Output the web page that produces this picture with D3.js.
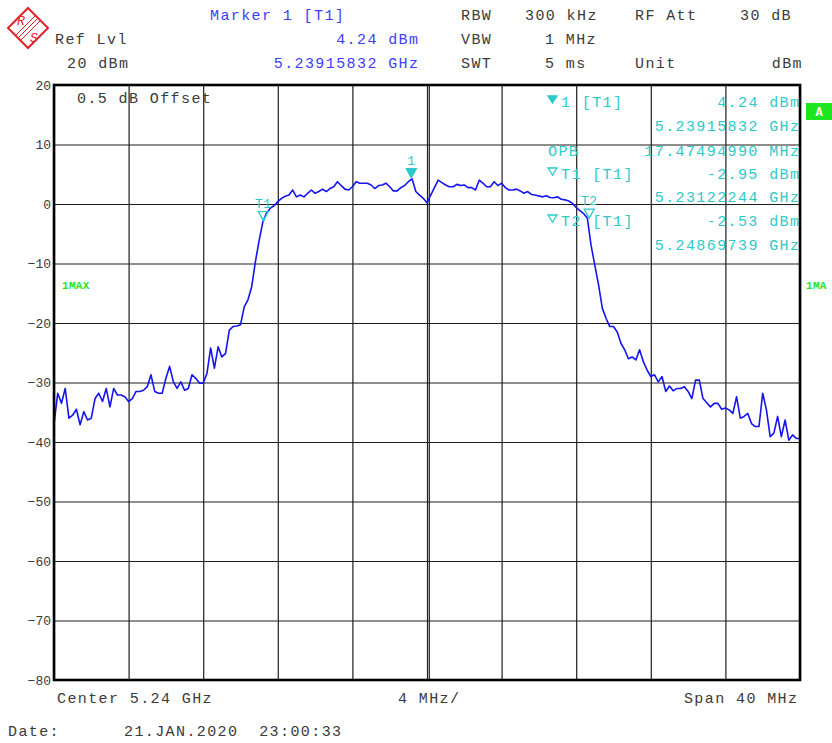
<!DOCTYPE html>
<html>
<head>
<meta charset="utf-8">
<script src="https://cdn.jsdelivr.net/npm/d3@7"></script>
<style>
  body { margin: 0; background: #fff; }
  svg { display: block; }
  text { font-family: "Liberation Mono", "DejaVu Sans Mono", monospace; white-space: pre; }
</style>
</head>
<body>
<div id="chart"></div>
<script>
// sweep settings
const START_GHZ = 5.22;
const STOP_GHZ = 5.26;
const SWEEP_STEP_GHZ = 0.0002;
const FREQ_GRID_GHZ = [5.220, 5.224, 5.228, 5.232, 5.236, 5.240, 5.244, 5.248, 5.252, 5.256, 5.260];
const LEVEL_TICKS = [20, 10, 0, -10, -20, -30, -40, -50, -60, -70, -80];

// trace 1 (max hold), dBm per sweep point
const TRACE_DBM = [
  -37.0, -31.8, -33.5, -31.0, -36.0, -35.5, -34.5, -37.1, -34.9, -36.3,
  -36.0, -32.7, -31.8, -33.2, -31.0, -34.1, -31.0, -32.1, -32.1, -32.4,
  -33.2, -32.7, -31.5, -31.5, -31.3, -30.7, -28.7, -31.5, -31.8, -31.8,
  -29.3, -27.3, -29.9, -31.0, -29.9, -31.3, -31.0, -28.7, -29.3, -30.1,
  -30.1, -28.5, -24.2, -27.6, -24.0, -25.7, -25.1, -21.2, -20.6, -20.5,
  -20.3, -17.3, -16.1, -13.9, -9.7, -6.1, -3.0, -1.5, -0.7, -0.3,
  0.4, 0.95, 1.3, 1.5, 2.35, 1.2, 1.5, 1.2, 1.8, 2.35,
  1.8, 2.1, 2.5, 2.1, 2.6, 2.9, 3.75, 3.1, 2.5, 2.35,
  2.9, 3.75, 3.5, 3.5, 3.5, 3.2, 2.6, 3.1, 3.2, 3.5,
  2.9, 2.2, 2.2, 2.75, 3.1, 3.75, 4.24, 2.1, 1.5, 0.95,
  0.2, 1.5, 2.75, 4.0, 3.6, 3.2, 2.9, 2.9, 3.3, 3.1,
  3.2, 2.75, 2.75, 2.35, 4.0, 3.5, 2.9, 2.9, 3.75, 3.1,
  3.5, 2.75, 2.35, 2.35, 2.5, 2.2, 1.8, 2.1, 1.6, 1.5,
  1.35, 1.2, 1.4, 1.1, 1.05, 1.2, 0.8, 0.7, 0.5, 0.1,
  -0.6, -1.1, -1.6, -2.4, -7.0, -10.3, -13.6, -17.5, -19.2, -20.6,
  -20.6, -21.5, -23.4, -24.5, -26.0, -25.7, -26.2, -24.5, -26.5, -27.9,
  -29.0, -28.7, -29.9, -29.0, -31.5, -30.6, -31.4, -31.0, -31.0, -30.7,
  -31.5, -32.7, -29.6, -29.6, -32.7, -33.4, -34.1, -33.5, -33.5, -34.5,
  -34.3, -34.6, -35.2, -32.4, -36.0, -35.7, -35.2, -36.9, -37.4, -37.4,
  -31.8, -34.6, -39.1, -38.5, -35.7, -39.1, -36.3, -39.7, -38.8, -39.4,
  -39.4
];

const MARKER_NAMES = ["1", "T1", "T2"];
const MARKER_FREQ_GHZ = [5.23915832, 5.23122244, 5.24869739];
const MARKER_DBM = [4.24, -2.95, -2.53];
const MARKER_FILLED = [true, false, false];

const HEADER_LEFT = ["Ref Lvl", "20 dBm"];
const HEADER_MARKER = ["Marker 1 [T1]", "4.24 dBm", "5.23915832 GHz"];
const HEADER_SETTINGS = ["RBW", "300 kHz", "RF Att", "30 dB", "VBW", "1 MHz", "SWT", "5 ms", "Unit", "dBm"];
const PANEL_LEFT = ["1 [T1]", "", "OPB", "T1 [T1]", "", "T2 [T1]", ""];
const PANEL_RIGHT = ["4.24 dBm", "5.23915832 GHz", "17.47494990 MHz", "-2.95 dBm", "5.23122244 GHz", "-2.53 dBm", "5.24869739 GHz"];
const PANEL_ICON = ["filled", null, null, "open", null, "open", null];
const FOOTER = ["Center 5.24 GHz", "4 MHz/", "Span 40 MHz"];
const DATE_TEXT = ["Date:", "21.JAN.2020  23:00:33"];

const WIDTH = 832;
const HEIGHT = 743;
const LEFT = 54, RIGHT = 800, TOP = 85, BOTTOM = 680;
const GRAY = "#3a3a3a";
const BLUE = "#3c3cff";
const CYAN = "#2ccaca";
const GREEN = "#1ee61e";
const TRACE_COLOR = "#1414f0";
const LS = "1.4px";

var svg = d3.select("#chart").append("svg")
  .attr("width", WIDTH)
  .attr("height", HEIGHT);

svg.append("rect").attr("width", WIDTH).attr("height", HEIGHT).attr("fill", "#fff");

var xScale = d3.scaleLinear().domain([START_GHZ, STOP_GHZ]).range([LEFT, RIGHT]);
var yScale = d3.scaleLinear().domain([-80, 20]).range([BOTTOM, TOP]);

function label(x, y, txt, opts) {
  opts = opts || {};
  return svg.append("text")
    .attr("x", x)
    .attr("y", y)
    .attr("fill", opts.color || GRAY)
    .attr("font-size", opts.size || 15)
    .attr("letter-spacing", opts.ls === undefined ? LS : opts.ls)
    .attr("text-anchor", opts.anchor || "start")
    .attr("font-weight", opts.weight || "normal")
    .text(txt);
}

// logo
var logo = svg.append("g").attr("transform", "translate(28,28)");
logo.append("path")
  .attr("d", "M0,-20 L20,0 L0,20 L-20,0 Z")
  .attr("fill", "#fff").attr("stroke", "#e5202a").attr("stroke-width", 2);
[-2.5, 0, 2.5].forEach(o => {
  logo.append("line")
    .attr("x1", -10 + o).attr("y1", 10 + o).attr("x2", 10 + o).attr("y2", -10 + o)
    .attr("stroke", "#e5202a").attr("stroke-width", 1);
});
logo.append("text").attr("x", -7).attr("y", -3).attr("fill", "#e5202a")
  .attr("font-size", 13).attr("font-style", "italic").attr("text-anchor", "middle")
  .attr("font-family", "Liberation Sans, sans-serif").text("R");
logo.append("text").attr("x", 6).attr("y", 14).attr("fill", "#e5202a")
  .attr("font-size", 13).attr("font-style", "italic").attr("text-anchor", "middle")
  .attr("font-family", "Liberation Sans, sans-serif").text("S");

// header
label(210, 20, HEADER_MARKER[0], { color: BLUE });
label(419.4, 44, HEADER_MARKER[1], { color: BLUE, anchor: "end" });
label(419.4, 68, HEADER_MARKER[2], { color: BLUE, anchor: "end" });
label(55, 44, HEADER_LEFT[0]);
label(67, 68, HEADER_LEFT[1]);

label(461, 20, HEADER_SETTINGS[0]);
label(525, 20, HEADER_SETTINGS[1]);
label(635, 20, HEADER_SETTINGS[2]);
label(792, 20, HEADER_SETTINGS[3], { anchor: "end" });
label(461, 44, HEADER_SETTINGS[4]);
label(545, 44, HEADER_SETTINGS[5]);
label(461, 68, HEADER_SETTINGS[6]);
label(545, 68, HEADER_SETTINGS[7]);
label(635, 68, HEADER_SETTINGS[8]);
label(803, 68, HEADER_SETTINGS[9], { anchor: "end" });

// grid
var grid = svg.append("g").attr("class", "grid");
grid.append("g")
  .attr("transform", `translate(${LEFT},0)`)
  .call(d3.axisLeft(yScale).tickValues(LEVEL_TICKS).tickSize(-(RIGHT - LEFT)).tickFormat(""))
  .call(g => g.select(".domain").remove());
grid.append("g")
  .attr("transform", `translate(0,${BOTTOM})`)
  .call(d3.axisBottom(xScale).tickValues(FREQ_GRID_GHZ).tickSize(-(BOTTOM - TOP)).tickFormat(""))
  .call(g => g.select(".domain").remove());
grid.selectAll("line").attr("stroke", "#1e1e1e").attr("stroke-width", 1.2);

// centre line is drawn double
var centreX = xScale((START_GHZ + STOP_GHZ) / 2) + 2.3;
grid.append("line")
  .attr("x1", centreX).attr("x2", centreX)
  .attr("y1", TOP).attr("y2", BOTTOM)
  .attr("stroke", "#1e1e1e").attr("stroke-width", 1.2);

// level axis labels
svg.append("g")
  .attr("transform", `translate(${LEFT},0)`)
  .call(d3.axisLeft(yScale).tickValues(LEVEL_TICKS).tickSize(0).tickPadding(3))
  .call(g => g.select(".domain").remove())
  .call(g => g.selectAll("text")
    .attr("fill", GRAY)
    .attr("font-size", 13)
    .attr("font-family", "Liberation Mono, DejaVu Sans Mono, monospace"));

// trace
svg.append("clipPath").attr("id", "plot-clip")
  .append("rect").attr("x", LEFT).attr("y", TOP).attr("width", RIGHT - LEFT).attr("height", BOTTOM - TOP);

var traceData = TRACE_DBM.map((v, i) => ({ freq: START_GHZ + i * SWEEP_STEP_GHZ, level: v }));
var line = d3.line()
  .x(d => xScale(d.freq))
  .y(d => yScale(d.level));

svg.append("path")
  .datum(traceData)
  .attr("clip-path", "url(#plot-clip)")
  .attr("fill", "none")
  .attr("stroke", TRACE_COLOR)
  .attr("stroke-width", 1.6)
  .attr("stroke-linejoin", "round")
  .attr("d", line);

// border
svg.append("rect")
  .attr("x", LEFT).attr("y", TOP)
  .attr("width", RIGHT - LEFT).attr("height", BOTTOM - TOP)
  .attr("fill", "none").attr("stroke", "#000").attr("stroke-width", 2.6);

// text in the plot
label(77, 103, "0.5 dB Offset");
label(62, 289, "1MAX", { color: GREEN, size: 11, weight: "bold", ls: "0.3px" });
label(806, 289, "1MA", { color: GREEN, size: 11, weight: "bold", ls: "0.3px" });
svg.append("rect").attr("x", 806).attr("y", 103).attr("width", 26).attr("height", 17).attr("fill", GREEN);
label(819, 116, "A", { color: "#fff", size: 12, weight: "bold", anchor: "middle", ls: 0 });

// markers on the trace
MARKER_NAMES.forEach((name, i) => {
  var mx = xScale(MARKER_FREQ_GHZ[i]);
  var my = yScale(MARKER_DBM[i]) - 1;
  svg.append("path")
    .attr("d", `M${mx - 5},${my - 9} L${mx + 5},${my - 9} L${mx},${my} Z`)
    .attr("fill", MARKER_FILLED[i] ? CYAN : "none")
    .attr("stroke", CYAN)
    .attr("stroke-width", 1.3);
  label(mx, my - 13, name, { color: CYAN, size: 13, anchor: "middle", ls: "0.5px" });
});

// marker info panel
var rowY = [107, 131, 156, 179, 202, 226, 250];
PANEL_LEFT.forEach((txt, i) => {
  if (PANEL_ICON[i]) {
    var cx = 552.5, top = rowY[i] - 11;
    svg.append("path")
      .attr("d", `M${cx - 4.5},${top} L${cx + 4.5},${top} L${cx},${top + 7} Z`)
      .attr("fill", PANEL_ICON[i] === "filled" ? CYAN : "#fff")
      .attr("stroke", CYAN).attr("stroke-width", 1.3);
  }
  if (txt) {
    label(txt === "OPB" ? 548 : 561, rowY[i], txt, { color: CYAN });
  }
  label(800.4, rowY[i], PANEL_RIGHT[i], { color: CYAN, anchor: "end" });
});

// footer
label(57, 703, FOOTER[0]);
label(398, 703, FOOTER[1]);
label(798.4, 703, FOOTER[2], { anchor: "end" });
label(8, 736, DATE_TEXT[0]);
label(124, 736, DATE_TEXT[1]);
</script>
</body>
</html>
